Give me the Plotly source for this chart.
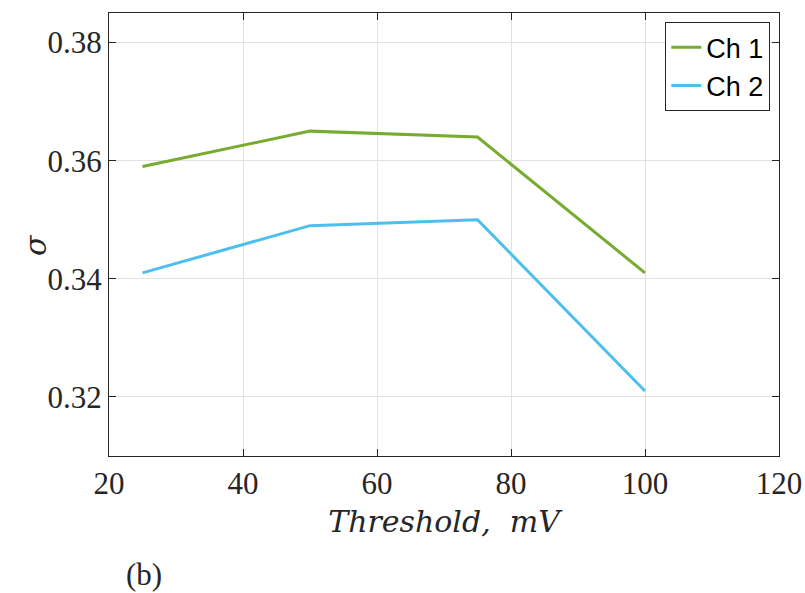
import plotly.graph_objects as go

thresholds = [25, 50, 75, 100]
ch1 = [0.359, 0.365, 0.364, 0.341]
ch2 = [0.341, 0.349, 0.350, 0.321]
series_names = ["Ch 1", "Ch 2"]
x_ticks = [20, 40, 60, 80, 100, 120]
y_ticks = [0.32, 0.34, 0.36, 0.38]
y_tick_labels = ["0.32", "0.34", "0.36", "0.38"]

serif = "Liberation Serif, serif"
axcol = "#262626"

fig = go.Figure()
fig.add_trace(go.Scatter(x=thresholds, y=ch1, mode="lines", name=series_names[0],
                         line=dict(color="#77AC30", width=3)))
fig.add_trace(go.Scatter(x=thresholds, y=ch2, mode="lines", name=series_names[1],
                         line=dict(color="#4DBEEE", width=3)))

axis_common = dict(
    showline=True, linecolor=axcol, linewidth=1, mirror="ticks",
    ticks="inside", ticklen=7, tickcolor=axcol, tickwidth=1,
    showgrid=True, gridcolor="#e1e1e1", gridwidth=1, zeroline=False,
    tickfont=dict(family=serif, size=31, color="#262626"),
    automargin=False,
)

fig.update_layout(
    width=805, height=593,
    margin=dict(l=109, r=26, t=13, b=137),
    paper_bgcolor="white", plot_bgcolor="white",
    xaxis=dict(range=[20, 120], tickvals=x_ticks, **axis_common,
               title=dict(text="<i>Threshold,  mV</i>", standoff=10,
                          font=dict(family="DejaVu Serif", size=30, color="#262626"))),
    yaxis=dict(range=[0.31, 0.385], tickvals=y_ticks, ticktext=y_tick_labels, **axis_common),
    legend=dict(x=0.987, y=0.979, xanchor="right", yanchor="top",
                bgcolor="white", bordercolor=axcol, borderwidth=1,
                font=dict(family="Liberation Sans", size=27, color="black"),
                tracegroupgap=0, itemwidth=30),
    showlegend=True,
)

# y-axis label (rotated)
fig.add_annotation(text="<i>σ</i>", xref="paper", yref="paper",
                   x=(35 - 109) / 670, y=(456 - 245) / 443,
                   xanchor="center", yanchor="middle", textangle=-90, showarrow=False,
                   font=dict(family="DejaVu Serif", size=30, color="#262626"))

fig.add_annotation(text="(b)", xref="paper", yref="paper", x=(144 - 109) / 670, y=-(574 - 456) / 443,
                   xanchor="center", yanchor="middle", showarrow=False, borderpad=0,
                   font=dict(family=serif, size=31, color="#262626"))

fig.write_html("out.html")
